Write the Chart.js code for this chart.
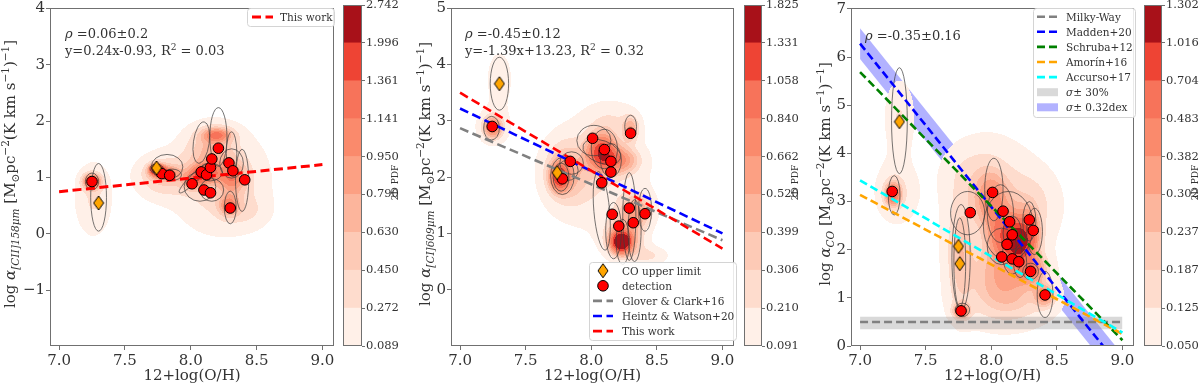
<!DOCTYPE html>
<html><head><meta charset="utf-8">
<script src="https://cdn.jsdelivr.net/npm/chart.js@4.4.1/dist/chart.umd.min.js"></script>
<style>
html,body{margin:0;padding:0;background:#fff;}
body{width:1200px;height:384px;overflow:hidden;position:relative;}
canvas{position:absolute;top:0;}
</style></head><body>
<canvas id="p1" width="342" height="384" style="left:0px"></canvas>
<canvas id="cb1" width="60" height="384" style="left:340px"></canvas>
<canvas id="p2" width="342" height="384" style="left:400px"></canvas>
<canvas id="cb2" width="59" height="384" style="left:741px"></canvas>
<canvas id="p3" width="342" height="384" style="left:800px"></canvas>
<canvas id="cb3" width="59" height="384" style="left:1141px"></canvas>
<script>
// ---------------- DATA ----------------
const ohTicks = [7.0, 7.5, 8.0, 8.5, 9.0];
const yTicks1 = [-1, 0, 1, 2, 3, 4];
const yTicks2 = [0, 1, 2, 3, 4, 5];
const yTicks3 = [0, 1, 2, 3, 4, 5, 6, 7];

const levels1 = ['0.089','0.272','0.450','0.630','0.790','0.950','1.141','1.361','1.996','2.742'];
const levels2 = ['0.091','0.210','0.306','0.399','0.520','0.662','0.840','1.058','1.331','1.825'];
const levels3 = ['0.050','0.125','0.187','0.237','0.302','0.382','0.483','0.704','1.016','1.302'];

// panel 1 : [CII]
const ohDet1 = [7.25,7.78,7.84,8.01,8.08,8.10,8.12,8.15,8.15,8.16,8.21,8.29,8.32,8.41,8.30];
const ciiDet = [0.93,1.07,1.04,0.89,1.10,0.78,1.05,0.73,1.18,1.33,1.52,1.26,1.12,0.96,0.46];
const ohLim1 = [7.30,7.74];
const ciiLim = [0.55,1.17];
// panel 2 : [CI]
const ohDet2 = [7.245,7.78,7.84,8.01,8.10,8.15,8.15,8.08,8.16,8.21,8.29,8.32,8.41,8.30];
const ciDet  = [2.90,1.97,2.28,2.69,2.49,2.28,2.09,1.90,1.34,1.13,1.45,1.19,1.35,2.78];
const ohLim2 = [7.30,7.74];
const ciLim  = [3.66,2.08];
// panel 3 : CO
const ohDet3 = [7.245,7.77,7.84,8.01,8.09,8.16,8.14,8.29,8.32,8.12,8.08,8.16,8.21,8.30,8.41];
const coDet  = [3.21,0.73,2.77,3.19,2.80,2.31,2.58,2.62,2.40,2.11,1.85,1.81,1.75,1.55,1.06];
const ohLim3 = [7.30,7.75,7.76];
const coLim  = [4.66,2.07,1.71];

// relation lines, evaluated at x = 7 and x = 9
const lineX = [7.0, 9.0];
const work1Y   = [0.75, 1.23];
const gloverY  = [2.87, 0.88];
const heintzY  = [3.22, 1.00];
const work2Y   = [3.50, 0.73];
const mwY      = [0.50, 0.50];
const mwLo     = [0.35, 0.35];
const mwHi     = [0.61, 0.61];
const maddenY  = [6.28, -0.50];
const maddenLo = [5.96, -0.82];
const maddenHi = [6.60, -0.18];
const schrubaY = [5.69, 0.12];
const amorinY  = [3.14, 0.25];
const accursoY = [3.44, 0.28];

// error ellipses: [x, y, semi-axis x, semi-axis y, tilt deg]
const ell1 = [[7.25,0.93,0.05,0.15,0],[7.30,0.65,0.06,0.60,0],[7.74,1.16,0.05,0.08,0],[7.82,1.19,0.12,0.22,0],
 [7.86,1.05,0.07,0.10,0],[8.02,0.98,0.15,0.07,45],[8.07,0.84,0.12,0.26,0],[8.08,1.62,0.06,0.37,-8],
 [8.16,0.78,0.09,0.20,0],[8.15,1.10,0.09,0.16,0],[8.21,1.72,0.065,0.52,0],[8.31,1.43,0.04,0.38,0],
 [8.31,1.25,0.09,0.26,0],[8.39,0.95,0.05,0.55,0],[8.30,0.47,0.045,0.29,0]];
const ell2 = [[7.24,2.87,0.06,0.21,0],[7.30,3.66,0.07,0.47,0],[7.78,2.02,0.09,0.33,0],[7.77,2.00,0.06,0.25,0],
 [7.82,2.12,0.08,0.18,0],[7.85,2.25,0.09,0.20,0],[8.02,2.65,0.13,0.27,0],[8.10,2.50,0.10,0.35,0],
 [8.15,2.30,0.08,0.30,0],[8.08,2.45,0.15,0.20,-20],[8.08,1.40,0.06,0.70,5],[8.17,1.05,0.06,0.50,0],
 [8.24,0.85,0.05,0.40,0],[8.29,1.30,0.05,0.78,0],[8.33,1.05,0.05,0.55,0],[8.41,1.42,0.05,0.38,0],
 [8.30,2.90,0.045,0.20,0]];
const ell3 = [[7.26,3.13,0.045,0.41,0],[7.30,4.68,0.06,1.10,0],[7.77,1.84,0.07,1.10,0],[7.76,1.73,0.045,0.93,0],
 [7.78,0.75,0.055,0.14,0],[7.82,2.76,0.13,0.45,0],[8.02,3.25,0.07,0.65,0],[8.13,2.49,0.19,0.72,0],
 [8.07,2.75,0.10,0.60,0],[8.29,2.59,0.05,0.41,0],[8.33,2.38,0.06,0.48,0],[8.08,2.07,0.11,0.38,0],
 [8.16,2.35,0.07,0.35,0],[8.16,1.90,0.075,0.41,0],[8.22,1.73,0.05,0.31,0],[8.30,1.55,0.06,0.17,0],
 [8.41,1.07,0.06,0.48,0]];

// 2D PDF components: [x, y, sigma x, sigma y, peak]
const kde1 = [[7.25,0.93,0.045,0.09,1.5],[7.26,0.62,0.09,0.42,0.30],[7.74,1.15,0.035,0.06,2.0],
 [7.80,1.08,0.07,0.08,1.0],[7.78,1.02,0.13,0.25,0.45],[8.10,1.08,0.08,0.12,1.0],[8.20,1.76,0.08,0.09,0.9],
 [8.15,1.50,0.12,0.25,0.45],[8.32,1.00,0.07,0.18,0.75],[8.29,0.50,0.05,0.12,0.8],[8.22,0.95,0.22,0.55,0.45],
 [8.02,0.92,0.06,0.10,0.6],[8.42,0.40,0.12,0.20,0.2]];
const kde2 = [[7.30,3.75,0.07,0.35,0.2],[7.25,2.88,0.045,0.12,0.65],[7.25,2.90,0.10,0.25,0.2],
 [7.76,2.00,0.045,0.15,1.15],[7.80,2.10,0.12,0.40,0.35],[8.08,2.45,0.07,0.20,1.1],[8.20,2.30,0.10,0.15,0.6],
 [8.30,2.85,0.04,0.15,0.4],[8.23,0.85,0.05,0.12,1.75],[8.25,0.92,0.10,0.25,0.45],[8.08,2.00,0.28,0.75,0.2],
 [8.35,1.40,0.08,0.20,0.45],[8.45,0.60,0.10,0.12,0.2],[8.15,3.00,0.15,0.25,0.15]];
const kde3 = [[7.30,4.75,0.08,0.55,0.13],[7.25,3.15,0.04,0.15,0.45],[7.27,3.20,0.11,0.45,0.14],
 [7.77,0.72,0.04,0.10,0.40],[7.76,1.90,0.07,0.80,0.16],[8.20,2.15,0.05,0.20,1.1],[8.12,2.30,0.08,0.30,0.6],
 [8.28,2.30,0.06,0.30,0.5],[8.05,2.40,0.30,1.30,0.12],[7.90,3.60,0.18,0.45,0.10],[8.30,3.00,0.15,0.45,0.10],
 [8.15,0.90,0.25,0.35,0.12],[8.41,1.05,0.05,0.15,0.3],[8.00,3.00,0.08,0.35,0.3],[8.30,1.60,0.08,0.20,0.35],
 [8.10,1.50,0.15,0.40,0.2]];

const bandColors = ['#fff0e8','#fedccd','#fdcab6','#fcb59c','#fca083','#fa8a6c','#f7735a','#ee4434','#a81119'];

// ---------------- HELPERS ----------------
const FF = '"DejaVu Serif", "Liberation Serif", serif';
const TXT = '#333333';
const FRAME = '#707070';
Chart.defaults.font.family = FF;
Chart.defaults.color = TXT;

function pts(xs, ys){ return xs.map((x,i)=>({x:x, y:ys[i]})); }

function thinDiamond(w,h){
  const c=document.createElement('canvas'); c.width=w+2; c.height=h+2;
  const g=c.getContext('2d');
  g.beginPath(); g.moveTo(c.width/2,1); g.lineTo(c.width-1,c.height/2);
  g.lineTo(c.width/2,c.height-1); g.lineTo(1,c.height/2); g.closePath();
  g.fillStyle='#ffa500'; g.fill(); g.lineWidth=1; g.strokeStyle='#000'; g.stroke();
  return c;
}
const diamondImg = thinDiamond(10,14);

function segFont(s, size){
  const sz = (s.sub||s.sup) ? size*0.7 : size;
  return (s.it?'italic ':'') + sz.toFixed(2) + 'px ' + FF;
}
function richWidth(ctx, segs, size){
  let w=0; segs.forEach(s=>{ctx.font=segFont(s,size); w+=ctx.measureText(s.t).width;}); return w;
}
function drawRich(ctx, segs, x, y, size, color){
  ctx.fillStyle=color||TXT; ctx.textAlign='left'; ctx.textBaseline='alphabetic';
  let cx=x;
  segs.forEach(s=>{
    ctx.font=segFont(s,size);
    const dy = s.sub ? size*0.25 : (s.sup ? -size*0.42 : 0);
    ctx.fillText(s.t, cx, y+dy);
    cx += ctx.measureText(s.t).width;
  });
}
function ytitle(sub){
  return [{t:'log '},{t:'α',it:1},{t:sub,sub:1,it:1},{t:' [M'},{t:'⊙',sub:1},{t:'pc'},{t:'−2',sup:1},
          {t:'(K km s'},{t:'−1',sup:1},{t:')'},{t:'−1',sup:1},{t:']'}];
}
function hexRgb(h){ return [parseInt(h.slice(1,3),16),parseInt(h.slice(3,5),16),parseInt(h.slice(5,7),16)]; }

function drawKDE(chart, blobs, levelStrs){
  const {ctx, chartArea:a, scales:{x,y}} = chart;
  const lv = levelStrs.map(Number);
  const W=Math.round(a.right-a.left), H=Math.round(a.bottom-a.top);
  const comps = blobs.map(b=>({
    px: x.getPixelForValue(b[0])-a.left, py: y.getPixelForValue(b[1])-a.top,
    sx: Math.abs(x.getPixelForValue(b[0]+b[2])-x.getPixelForValue(b[0])),
    sy: Math.abs(y.getPixelForValue(b[1]+b[3])-y.getPixelForValue(b[1])), A:b[4]}));
  const rgb = bandColors.map(hexRgb);
  const off=document.createElement('canvas'); off.width=W; off.height=H;
  const g=off.getContext('2d'); const img=g.createImageData(W,H); const d=img.data;
  for(let j=0;j<H;j++){
    for(let i=0;i<W;i++){
      let v=0;
      for(const c of comps){
        const dx=(i+0.5-c.px)/c.sx, dy=(j+0.5-c.py)/c.sy;
        const r=dx*dx+dy*dy; if(r<30) v+=c.A*Math.exp(-0.5*r);
      }
      if(v<lv[0]) continue;
      let k=0; while(k<8 && v>=lv[k+1]) k++;
      const o=(j*W+i)*4; d[o]=rgb[k][0]; d[o+1]=rgb[k][1]; d[o+2]=rgb[k][2]; d[o+3]=255;
    }
  }
  g.putImageData(img,0,0);
  ctx.drawImage(off, a.left, a.top);
}
function drawEllipses(chart, ells){
  const {ctx, chartArea:a, scales:{x,y}} = chart;
  ctx.save(); ctx.beginPath(); ctx.rect(a.left,a.top,a.right-a.left,a.bottom-a.top); ctx.clip();
  ctx.strokeStyle='rgba(60,60,60,0.7)'; ctx.lineWidth=1; ctx.setLineDash([]);
  ells.forEach(e=>{
    const px=x.getPixelForValue(e[0]), py=y.getPixelForValue(e[1]);
    const rx=Math.abs(x.getPixelForValue(e[0]+e[2])-px), ry=Math.abs(y.getPixelForValue(e[1]+e[3])-py);
    ctx.beginPath(); ctx.ellipse(px,py,rx,ry,-e[4]*Math.PI/180,0,Math.PI*2); ctx.stroke();
  });
  ctx.restore();
}
function drawLegend(chart, L){
  const ctx=chart.ctx; const [bx,by,bw,bh]=L.box;
  ctx.save(); ctx.setLineDash([]);
  ctx.beginPath(); ctx.roundRect(bx+0.5,by+0.5,bw,bh,3);
  ctx.fillStyle='rgba(255,255,255,0.85)'; ctx.fill(); ctx.strokeStyle='#d4d4d4'; ctx.lineWidth=1; ctx.stroke();
  L.rows.forEach((r,i)=>{
    const cy=L.y0+i*L.dy;
    const ds=chart.data.datasets.find(d=>d.label===r.label);
    if(r.kind==='line'){
      ctx.save(); ctx.setLineDash(ds.borderDash); ctx.lineWidth=ds.borderWidth; ctx.strokeStyle=ds.borderColor;
      ctx.beginPath(); ctx.moveTo(L.hx0,cy); ctx.lineTo(L.hx1,cy); ctx.stroke(); ctx.restore();
    } else if(r.kind==='patch'){
      ctx.fillStyle=ds.backgroundColor; ctx.fillRect(L.hx0,cy-4,L.hx1-L.hx0,8);
    } else if(r.kind==='circle'){
      ctx.beginPath(); ctx.arc((L.hx0+L.hx1)/2,cy,ds.pointRadius,0,Math.PI*2);
      ctx.fillStyle=ds.backgroundColor; ctx.fill(); ctx.strokeStyle='#000'; ctx.lineWidth=1; ctx.stroke();
    } else if(r.kind==='diamond'){
      ctx.drawImage(diamondImg,(L.hx0+L.hx1)/2-diamondImg.width/2,cy-diamondImg.height/2);
    }
    drawRich(ctx, r.segs || [{t:r.label}], L.tx, cy+3.8, L.size, TXT);
  });
  ctx.restore();
}

const panelCfg = {};
const panelPlugin = {
  id:'panelDeco',
  afterDatasetDraw(chart,args){
    const ds=chart.data.datasets[args.index];
    if(!ds.kdeAnchor) return;
    const P=panelCfg[chart.canvas.id];
    drawKDE(chart,P.kde,P.levels);
    drawEllipses(chart,P.ell);
  },
  afterDraw(chart){
    const P=panelCfg[chart.canvas.id]; const ctx=chart.ctx; const a=chart.chartArea;
    ctx.save();
    ctx.setLineDash([]); ctx.strokeStyle=FRAME; ctx.lineWidth=1;
    ctx.strokeRect(Math.round(a.left)+0.5,Math.round(a.top)+0.5,Math.round(a.right-a.left)-1,Math.round(a.bottom-a.top)-1);
    const size=15; const w=richWidth(ctx,P.title,size);
    ctx.translate(P.titleX,(a.top+a.bottom)/2 - 3); ctx.rotate(-Math.PI/2);
    drawRich(ctx,P.title,-w/2,size*0.36,size,TXT);
    ctx.restore();
    P.ann.forEach(an=>drawRich(ctx,an.segs,an.x,an.y,13,TXT));
    drawLegend(chart,P.legend);
  }
};

function makePanel(id, P, datasets, ymin, ymax, yTicks){
  panelCfg[id]=P;
  return new Chart(document.getElementById(id),{
    type:'scatter',
    data:{datasets:datasets},
    plugins:[panelPlugin],
    options:{
      responsive:false, animation:false, events:[],
      layout:{padding:{left:0,right:P.padRight,top:5,bottom:0}},
      plugins:{legend:{display:false},tooltip:{enabled:false},filler:{drawTime:'beforeDatasetDraw'}},
      scales:{
        x:{type:'linear',min:6.931,max:9.088,
           afterBuildTicks:s=>{s.ticks=ohTicks.map(v=>({value:v}));},
           afterFit:s=>{s.height=38;s.paddingLeft=0;s.paddingRight=0;},
           ticks:{callback:v=>Number(v).toFixed(1),font:{size:15},color:TXT,padding:2,maxRotation:0,autoSkip:false},
           grid:{drawOnChartArea:false,tickLength:4,color:FRAME},border:{display:false},
           title:{display:true,text:'12+log(O/H)',font:{size:15,lineHeight:1},color:TXT,padding:{top:0,bottom:0}}},
        y:{type:'linear',min:ymin,max:ymax,
           afterBuildTicks:s=>{s.ticks=yTicks.map(v=>({value:v}));},
           afterFit:s=>{s.width=P.yWidth;s.paddingTop=0;s.paddingBottom=0;},
           ticks:{callback:v=>(v<0?'\u2212'+Math.abs(v):String(v)),font:{size:15},color:TXT,padding:1,autoSkip:false},
           grid:{drawOnChartArea:false,tickLength:4,color:FRAME},border:{display:false}}
      }
    }
  });
}

function lineDs(label, ys, color, width, dash, order){
  return {type:'line',label:label,data:pts(lineX,ys),borderColor:color,borderWidth:width,borderDash:dash,
          pointRadius:0,fill:false,order:order,tension:0};
}
function detDs(xs,ys){ return {label:'detection',data:pts(xs,ys),pointStyle:'circle',pointRadius:5.3,
          backgroundColor:'#ff0000',borderColor:'#000000',borderWidth:1,order:1}; }
function limDs(xs,ys){ return {label:'CO upper limit',data:pts(xs,ys),pointStyle:diamondImg,pointRadius:7,
          backgroundColor:'#ffa500',borderColor:'#000',borderWidth:1,order:0}; }
const anchor = ()=>({label:'_kde',data:[],kdeAnchor:true,order:50,pointRadius:0});

// ---- Panel 1
makePanel('p1',{
  kde:kde1, levels:levels1, ell:ell1, title:ytitle('[CII]158μm'), titleX:10, yWidth:50, padRight:2,
  ann:[{x:65,y:38,segs:[{t:'ρ',it:1},{t:' =0.06±0.2'}]},
       {x:65,y:55,segs:[{t:'y=0.24x-0.93, R'},{t:'2',sup:1},{t:' = 0.03'}]}],
  legend:{box:[247,8,87,18],y0:17,dy:15,hx0:252,hx1:273,tx:280,size:10.5,rows:[{label:'This work',kind:'line'}]}
},[anchor(), lineDs('This work',work1Y,'#ff0000',3,[9,4.5],20), detDs(ohDet1,ciiDet), limDs(ohLim1,ciiLim)],
 -1.985, 4.005, yTicks1);

// ---- Panel 2
makePanel('p2',{
  kde:kde2, levels:levels2, ell:ell2, title:ytitle('[CI]609μm'), titleX:25, yWidth:51, padRight:1,
  ann:[{x:65,y:38,segs:[{t:'ρ',it:1},{t:' =-0.45±0.12'}]},
       {x:65,y:55,segs:[{t:'y=-1.39x+13.23, R'},{t:'2',sup:1},{t:' = 0.32'}]}],
  legend:{box:[189,262,147,78],y0:270.7,dy:15.1,hx0:193,hx1:213,tx:222,size:10.5,rows:[
    {label:'CO upper limit',kind:'diamond'},{label:'detection',kind:'circle'},
    {label:'Glover & Clark+16',kind:'line'},{label:'Heintz & Watson+20',kind:'line'},{label:'This work',kind:'line'}]}
},[anchor(), lineDs('Glover & Clark+16',gloverY,'#808080',2.6,[9,4.5],22),
   lineDs('Heintz & Watson+20',heintzY,'#0000ff',2.6,[9,4.5],21),
   lineDs('This work',work2Y,'#ff0000',2.6,[9,4.5],20), detDs(ohDet2,ciDet), limDs(ohLim2,ciLim)],
 -1.0, 5.005, yTicks2);

// ---- Panel 3
makePanel('p3',{
  kde:kde3, levels:levels3, ell:ell3, title:ytitle('CO'), titleX:25, yWidth:51, padRight:1,
  ann:[{x:65,y:40,segs:[{t:'ρ',it:1},{t:' =-0.35±0.16'}]}],
  legend:{box:[233,8,102,109],y0:16.7,dy:15.1,hx0:237,hx1:258,tx:266,size:10.5,rows:[
    {label:'Milky-Way',kind:'line'},{label:'Madden+20',kind:'line'},{label:'Schruba+12',kind:'line'},
    {label:'Amorín+16',kind:'line'},{label:'Accurso+17',kind:'line'},
    {label:'σ± 30%',kind:'patch',segs:[{t:'σ',it:1},{t:'± 30%'}]},
    {label:'σ± 0.32dex',kind:'patch',segs:[{t:'σ',it:1},{t:'± 0.32dex'}]}]}
},[
  {type:'line',label:'_mlo',data:pts(lineX,maddenLo),borderWidth:0,pointRadius:0,fill:false,order:61},
  {type:'line',label:'σ± 0.32dex',data:pts(lineX,maddenHi),borderWidth:0,pointRadius:0,fill:'-1',
   backgroundColor:'rgba(0,0,255,0.3)',order:60},
  anchor(),
  {type:'line',label:'_wlo',data:pts(lineX,mwLo),borderWidth:0,pointRadius:0,fill:false,order:41},
  {type:'line',label:'σ± 30%',data:pts(lineX,mwHi),borderWidth:0,pointRadius:0,fill:'-1',
   backgroundColor:'rgba(128,128,128,0.3)',order:40},
  lineDs('Milky-Way',mwY,'#808080',2.4,[8,4],25),
  lineDs('Madden+20',maddenY,'#0000ff',2.6,[8,4],24),
  lineDs('Schruba+12',schrubaY,'#008000',2.6,[8,4],23),
  lineDs('Amorín+16',amorinY,'#ffa500',2.6,[8,4],22),
  lineDs('Accurso+17',accursoY,'#00ffff',2.6,[8,4],21),
  detDs(ohDet3,coDet), limDs(ohLim3,coLim)],
 0, 7.02, yTicks3);

// ---------------- COLORBARS ----------------
const cbPlugin = {
  id:'cbDeco',
  afterDraw(chart){
    const ctx=chart.ctx, a=chart.chartArea;
    ctx.save(); ctx.strokeStyle=FRAME; ctx.lineWidth=1;
    ctx.strokeRect(Math.round(a.left)+0.5,Math.round(a.top)+0.5,Math.round(a.right-a.left)-1,Math.round(a.bottom-a.top)-1);
    ctx.translate(chart.width-4.5,(a.top+a.bottom)/2+7); ctx.rotate(-Math.PI/2);
    ctx.font='9px '+FF; ctx.fillStyle=TXT; ctx.textAlign='center'; ctx.textBaseline='middle';
    ctx.fillText('2D PDF',0,0);
    ctx.restore();
  }
};
function makeCB(id, levels){
  const ds = bandColors.map((c,k)=>({label:levels[k],data:[1],backgroundColor:c,borderWidth:0,
        barPercentage:1,categoryPercentage:1,stack:'s'}));
  return new Chart(document.getElementById(id),{
    type:'bar', data:{labels:['pdf'],datasets:ds}, plugins:[cbPlugin],
    options:{responsive:false,animation:false,events:[],
      layout:{padding:{left:3,right:0,top:5,bottom:38}},
      plugins:{legend:{display:false},tooltip:{enabled:false}},
      scales:{
        x:{display:false,stacked:true},
        y:{position:'right',stacked:true,min:0,max:levels.length-1,
           afterBuildTicks:s=>{s.ticks=levels.map((_,i)=>({value:i}));},
           afterFit:s=>{s.width=38;s.paddingTop=0;s.paddingBottom=0;},
           ticks:{callback:v=>levels[v],font:{size:11.5},color:TXT,padding:1,autoSkip:false},
           grid:{drawOnChartArea:false,tickLength:3,color:FRAME},border:{display:false}}
      }}
  });
}
makeCB('cb1',levels1);
makeCB('cb2',levels2);
makeCB('cb3',levels3);
</script>
</body></html>
